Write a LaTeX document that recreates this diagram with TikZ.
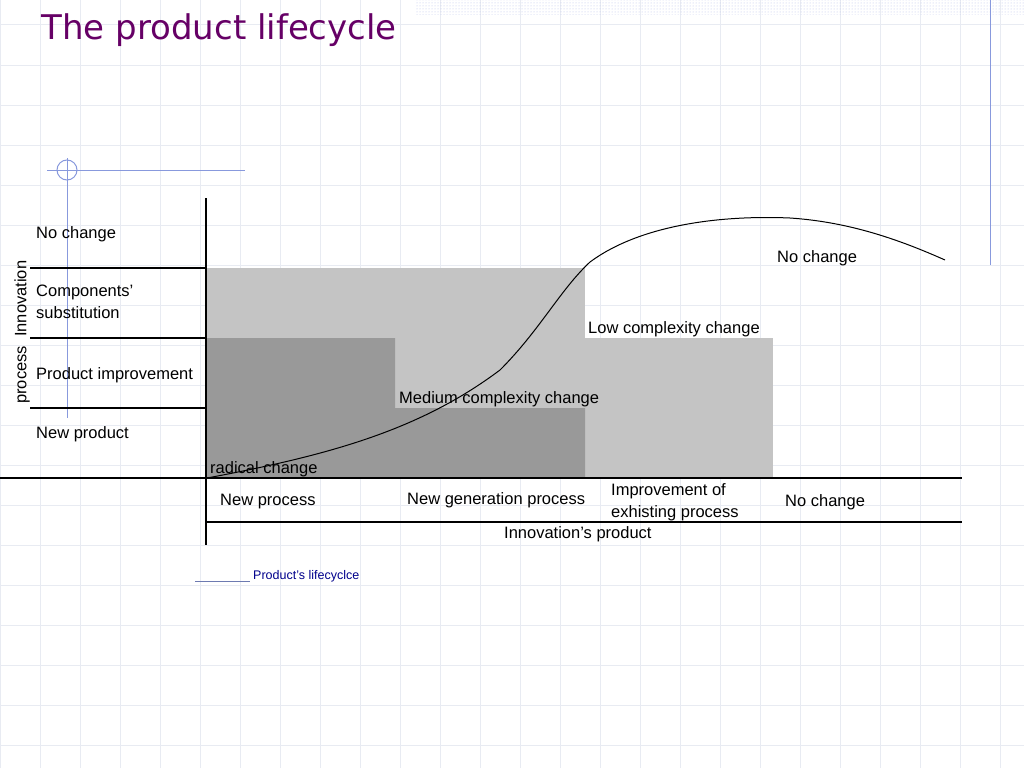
\documentclass[tikz,border=0pt]{standalone}
\usepackage{fontspec}
\setmainfont{Liberation Sans}
\newfontfamily\titlefont{DejaVu Sans}
\usetikzlibrary{patterns}
\definecolor{gridc}{HTML}{E8EBF2}
\definecolor{lgray}{HTML}{C4C4C4}
\definecolor{dgray}{HTML}{999999}
\definecolor{ttl}{HTML}{660066}
\definecolor{blu}{HTML}{8899DD}
\begin{document}
\begin{tikzpicture}[x=1pt,y=-1pt,
  lbl/.style={anchor=west,font=\fontsize{16.5}{22}\selectfont,inner sep=0pt},
  ax/.style={line width=1.2pt}]
\useasboundingbox (0,0) rectangle (1024,768);
\fill[white] (0,0) rectangle (1024,768);
\foreach \x in {0,40,...,1024} \draw[gridc,line width=1pt] (\x,0) -- (\x,768);
\foreach \y in {25,65,...,768} \draw[gridc,line width=1pt] (0,\y) -- (1024,\y);
\fill[pattern=dots,pattern color=blu!60] (415,0) rectangle (1024,15);
\draw[blu,line width=1pt] (990,0) -- (990,265);
\draw[blu,line width=1pt] (47,170) -- (245,170);
\draw[blu,line width=1pt] (67,158) -- (67,418);
\draw[blu,line width=1pt] (67,170) circle (10);
\node[anchor=west,text=ttl,font=\titlefont\fontsize{34}{38}\selectfont] (title) at (38,30) {The product lifecycle};
% regions
\fill[lgray] (207,268) rectangle (585,478);
\fill[lgray] (585,338) rectangle (773,478);
\fill[dgray] (207,338) -- (395,338) -- (395,408) -- (585,408) -- (585,478) -- (207,478) -- cycle;
% axes
\draw[ax] (206,198) -- (206,545);
\draw[ax] (0,478) -- (962,478);
\draw[ax] (206,522) -- (962,522);
\foreach \y in {268,338,408} \draw[ax] (30,\y) -- (206,\y);
% curve
\draw[line width=1pt] (207,478) .. controls (330,455) and (420,430) .. (500,370)
  .. controls (540,330) and (560,290) .. (590,262)
  .. controls (640,225) and (720,215) .. (790,218)
  .. controls (850,222) and (900,240) .. (945,260);
% labels
\node[lbl] (l1) at (36,234) {No change};
\node[lbl,align=left,anchor=north west] (l2) at (36,285) {Components'\\substitution};
\node[lbl] (l3) at (36,375) {Product improvement};
\node[lbl] (l4) at (36,434) {New product};
\node[lbl,rotate=90] (l5) at (22,404) {process\ \ Innovation};
\node[lbl] (r1) at (777,258) {No change};
\node[lbl] (r2) at (588,329) {Low complexity change};
\node[lbl] (r3) at (399,399) {Medium complexity change};
\node[lbl] (r4) at (210,469) {radical change};
\node[lbl] (b1) at (220,502) {New process};
\node[lbl] (b2) at (407,500) {New generation process};
\node[lbl,align=left] (b3) at (611,502) {Improvement of\\exhisting process};
\node[lbl] (b4) at (785,502) {No change};
\node[lbl] (b5) at (504,534) {Innovation's product};
\draw[blu!80!black] (195,581) -- (250,581);
\node[anchor=west,inner sep=0pt,font=\fontsize{12.5}{14}\selectfont,text=blue!55!black] (cap) at (253,576) {Product's lifecyclce};
\end{tikzpicture}
\end{document}
